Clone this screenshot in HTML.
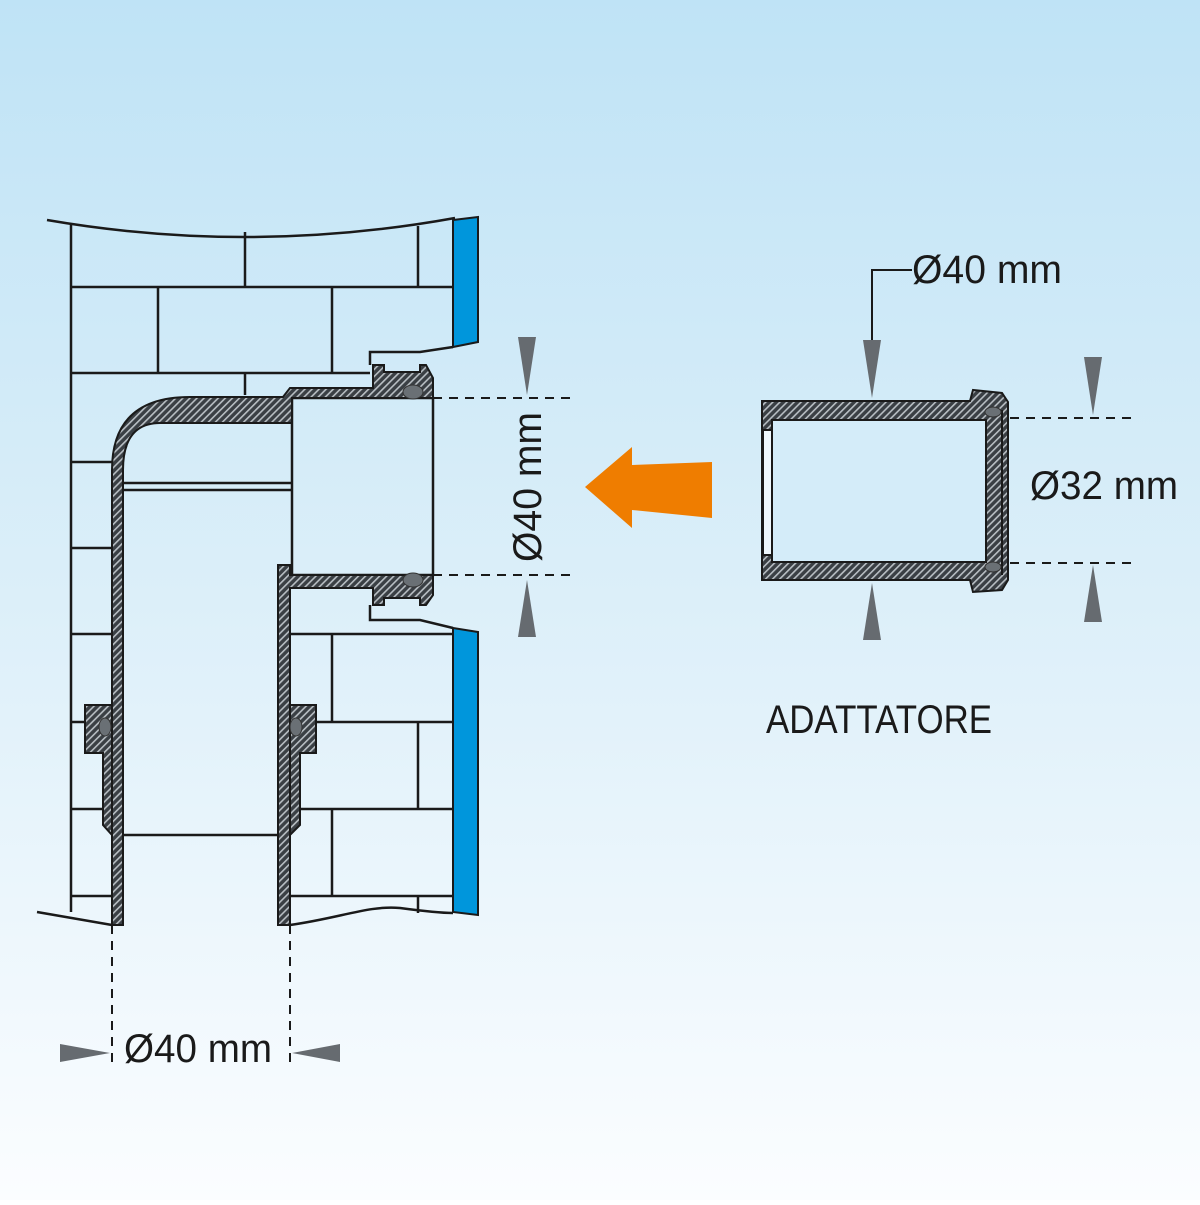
<!DOCTYPE html>
<html><head><meta charset="utf-8"><style>html,body{margin:0;padding:0}</style></head><body>
<svg width="1200" height="1200" viewBox="0 0 1200 1200" xmlns="http://www.w3.org/2000/svg">
<defs>
<linearGradient id="bg" x1="0" y1="0" x2="0" y2="1">
<stop offset="0" stop-color="#bfe3f6"/><stop offset="0.5" stop-color="#dceff9"/><stop offset="1" stop-color="#fbfdff"/>
</linearGradient>
<pattern id="h" width="5" height="5" patternUnits="userSpaceOnUse" patternTransform="rotate(45)">
<rect width="5" height="5" fill="#3a3f44"/><rect width="1.6" height="5" fill="#b8bec3"/>
</pattern>
</defs>
<rect width="1200" height="1200" fill="url(#bg)"/>
<g stroke="#1a1a1a" stroke-width="2.5" fill="none">
<!-- wall -->
<path d="M47,220 Q250,255 455,218"/>
<path d="M71,225 V912"/>
<path d="M37,912 L112,925"/>
<path d="M290,925 C340,918 370,905 400,908 C430,912 445,913 453,913"/>
<path d="M71,287 H453 M71,373 H370 M71,462 H113 M71,548 H113 M71,634 H113 M71,722 H85 M71,809 H104 M71,896 H112"/>
<path d="M245,232 V287 M418,226 V287 M158,287 V373 M332,287 V373 M245,373 V395"/>
<path d="M290,634 H453 M316,722 H453 M300,809 H453 M290,896 H453 M332,634 V722 M418,722 V809 M332,809 V896 M418,896 V913"/>
<path d="M453,347 L420,352 H370 V365 M370,605 V620 H420 L453,628"/>
<path d="M123,483 H292 M123,490 H292 M123,835 H278"/>
<rect x="292" y="398" width="141" height="177"/>
</g>
<polygon points="453,220 478,217 478,342 453,347" fill="#0096dc" stroke="#1a1a1a" stroke-width="2"/>
<polygon points="453,628 478,632 478,915 453,912" fill="#0096dc" stroke="#1a1a1a" stroke-width="2"/>
<!-- pipe hatched -->
<g fill="url(#h)" stroke="#1a1a1a" stroke-width="2">
<path d="M112,925 V470 Q112,397 190,397 H283 L290,388 H373 V365 H384 V372 H420 V365 H426 L433,378 V398 H292 V423 H160 Q123,423 123,470 V925 Z"/>
<path d="M278,925 V565 H290 V575 H433 V595 L426,605 H420 V598 H384 V605 H373 V588 H290 V925 Z"/>
<path d="M85,705 H112 V835 L103,825 V753 H85 Z"/>
<path d="M290,705 H316 V753 H300 V825 L290,835 Z"/>
<!-- adapter -->
<path d="M762,401 H970 L973,390 L1002,393 L1008,402 V580 L1002,590 L973,592 L970,580 H762 Z M772,420 V562 H986 V420 Z"/>
</g>
<rect x="772" y="420" width="214" height="142" fill="#d4ecf9" stroke="#1a1a1a" stroke-width="2"/>
<path d="M763,430 H772 V555 H763 Z M986,420 V560 M1002,410 V575" fill="#eef7fd" stroke="#1a1a1a" stroke-width="2"/>
<g fill="#6a7075" stroke="#333" stroke-width="1">
<ellipse cx="413" cy="392" rx="10" ry="7"/><ellipse cx="413" cy="580" rx="10" ry="7"/>
<ellipse cx="105" cy="727" rx="6" ry="9"/><ellipse cx="296" cy="727" rx="6" ry="9"/>
<ellipse cx="993" cy="412" rx="8" ry="5"/><ellipse cx="993" cy="567" rx="8" ry="5"/>
</g>
<!-- dims -->
<g stroke="#1a1a1a" stroke-width="2" stroke-dasharray="9,7" fill="none">
<path d="M433,398 H570 M433,575 H570 M1010,418 H1135 M1010,563 H1135 M112,925 V1062 M290,925 V1062"/>
</g>
<path d="M912,270 H872 V345" stroke="#1a1a1a" stroke-width="2" fill="none"/>
<g fill="#666b70">
<polygon points="518,337 536,337 527,395"/><polygon points="518,637 536,637 527,580"/>
<polygon points="863,340 881,340 872,398"/><polygon points="863,640 881,640 872,583"/>
<polygon points="1084,357 1102,357 1093,415"/><polygon points="1084,622 1102,622 1093,565"/>
<polygon points="60,1044 60,1062 110,1053"/><polygon points="340,1044 340,1062 292,1053"/>
</g>
<polygon points="585,487 632,447 632,465 712,462 712,518 632,510 632,528" fill="#ef7d00"/>
<g font-family="Liberation Sans, sans-serif" fill="#1a1a1a" font-size="40">
<text x="912" y="283" textLength="150" lengthAdjust="spacingAndGlyphs">Ø40 mm</text>
<text x="1030" y="499" textLength="148" lengthAdjust="spacingAndGlyphs">Ø32 mm</text>
<text x="124" y="1062" textLength="148" lengthAdjust="spacingAndGlyphs">Ø40 mm</text>
<text transform="translate(541,562) rotate(-90)" textLength="150" lengthAdjust="spacingAndGlyphs">Ø40 mm</text>
<text x="766" y="733" textLength="226" lengthAdjust="spacingAndGlyphs">ADATTATORE</text>
</g>
</svg>
</body></html>
